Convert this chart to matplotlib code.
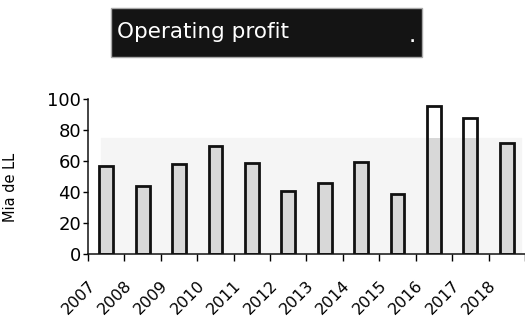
import numpy as np
import matplotlib
matplotlib.use("Agg")
import matplotlib.pyplot as plt
from matplotlib.patches import Rectangle
import matplotlib.transforms as mtransforms

# data
years = ['2007', '2008', '2009', '2010', '2011', '2012',
         '2013', '2014', '2015', '2016', '2017', '2018']
profit = [57, 44, 58, 70, 59, 41, 46, 59.5, 39, 95.5, 87.5, 71.5]

title = 'Operating profit'
ylabel = 'Mia de LL'

plt.rcParams['font.family'] = 'DejaVu Sans'

fig = plt.figure(figsize=(5.25, 3.2), dpi=100)
ax = fig.add_axes([0.1676, 0.206, 0.8324, 0.4845])

x = np.arange(len(years))
w = 0.38
vals = np.array(profit)

# faint grey scan band behind the bars
ax.axhspan(0, 75, xmin=0.03, xmax=0.99, color='#f5f5f5', zorder=0)

# bars: white above the band, grey inside it, black outline
ax.bar(x, vals, width=w, color='white', edgecolor='none', zorder=2)
ax.bar(x, np.minimum(vals, 75), width=w, color='#d8d8d8', edgecolor='none', zorder=2.5)
ax.bar(x, vals, width=w, fill=False, edgecolor='#111111', linewidth=2, zorder=3)

ax.set_xlim(-0.5, 11.375)
ax.set_ylim(0, 100)
ax.set_yticks(range(0, 101, 20))
ax.tick_params(axis='y', length=3.5, width=1, pad=1.5, labelsize=13)

ax.set_xticks(x)
ax.set_xticklabels(years, rotation=45, ha='right', fontsize=11.5)
ax.set_xticks(np.arange(-0.5, len(years), 1.0), minor=True)
ax.tick_params(axis='x', which='major', length=0, pad=17)
ax.tick_params(axis='x', which='minor', length=5, width=1, direction='out')
offset = mtransforms.ScaledTranslation(-8 / 100, 0, fig.dpi_scale_trans)
for lab in ax.get_xticklabels():
    lab.set_transform(lab.get_transform() + offset)

for s in ['top', 'right']:
    ax.spines[s].set_visible(False)
for s in ['left', 'bottom']:
    ax.spines[s].set_linewidth(1.1)
    ax.spines[s].set_color('#111111')

ax.set_ylabel(ylabel, fontsize=10.5)
ax.yaxis.set_label_coords(-0.16, 0.43)

# black title box
fig.patches.append(Rectangle((0.2109, 0.8228), 0.5923, 0.1512, transform=fig.transFigure,
                             facecolor='#141414', edgecolor='#a8a8a8', linewidth=1))
fig.text(0.223, 0.880, title, color='white', fontsize=15.5, va='baseline', ha='left')
fig.text(0.785, 0.868, '.', color='white', fontsize=10, ha='center', va='baseline',
         fontweight='bold')

fig.savefig('out.png', dpi=100)
